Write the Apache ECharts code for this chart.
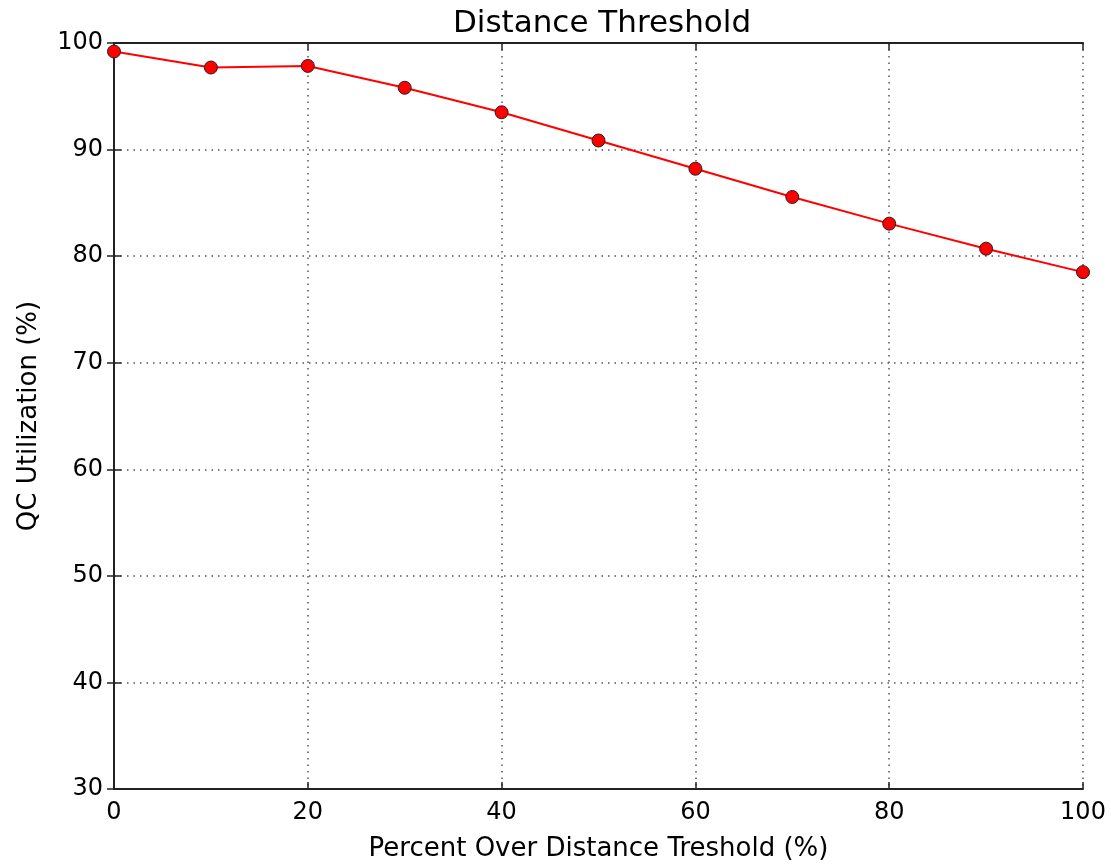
<!DOCTYPE html>
<html>
<head>
<meta charset="utf-8">
<script src="https://cdn.jsdelivr.net/npm/echarts@6/dist/echarts.min.js"></script>
<style>
  html, body { margin: 0; padding: 0; background: #fff; }
  #chart { width: 1111px; height: 867px; }
</style>
</head>
<body>
<div id="chart"></div>
<script>
// percent over distance threshold
const overThreshold = [0, 10, 20, 30, 40, 50, 60, 70, 80, 90, 100];
// QC utilization (%)
const qcUtilization = [99.2, 97.7, 97.85, 95.8, 93.5, 90.85, 88.2, 85.55, 83.05, 80.7, 78.5];

const FONT = 'DejaVu Sans';
const axisLineStyle = { color: '#222', width: 2 };
const gridStyle = { color: '#555', width: 1.5, type: [1.5, 5] };

const frameAxis = (pos) => ({
  position: pos,
  axisLine: { show: true, lineStyle: axisLineStyle },
  axisTick: { show: true, inside: true, length: 7, lineStyle: { color: '#222', width: 1.5 } },
  axisLabel: { show: false },
  splitLine: { show: false }
});

const option = {
  animation: false,
  backgroundColor: '#fff',
  textStyle: { fontFamily: FONT, color: '#000' },
  title: {
    text: 'Distance Threshold',
    left: 597,
    top: 3,
    textAlign: 'center',
    textStyle: { fontFamily: FONT, fontSize: 31, fontWeight: 'normal', color: '#000' }
  },
  grid: { left: 114, right: 28, top: 43, bottom: 77, containLabel: false },
  xAxis: [
    {
      type: 'value',
      min: 0,
      max: 100,
      interval: 20,
      name: 'Percent Over Distance Treshold (%)',
      nameLocation: 'middle',
      nameGap: 47,
      nameTextStyle: { fontFamily: FONT, fontSize: 26, color: '#000' },
      axisLine: { show: true, lineStyle: axisLineStyle },
      axisTick: { show: true, inside: true, length: 7, lineStyle: { color: '#222', width: 1.5 } },
      axisLabel: { fontFamily: FONT, fontSize: 24, color: '#000', margin: 12 },
      splitLine: { show: true, lineStyle: gridStyle }
    },
    Object.assign({ type: 'value', min: 0, max: 100, interval: 20 }, frameAxis('top'))
  ],
  yAxis: [
    {
      type: 'value',
      min: 30,
      max: 100,
      interval: 10,
      name: 'QC Utilization (%)',
      nameLocation: 'middle',
      nameGap: 72,
      nameTextStyle: { fontFamily: FONT, fontSize: 26, color: '#000' },
      axisLine: { show: true, lineStyle: axisLineStyle },
      axisTick: { show: true, inside: true, length: 7, lineStyle: { color: '#222', width: 1.5 } },
      axisLabel: { fontFamily: FONT, fontSize: 24, color: '#000', margin: 11 },
      splitLine: { show: true, lineStyle: gridStyle }
    },
    Object.assign({ type: 'value', min: 30, max: 100, interval: 10 }, frameAxis('right'))
  ],
  series: [
    {
      type: 'line',
      data: overThreshold.map((x, i) => [x, qcUtilization[i]]),
      symbol: 'circle',
      symbolSize: 13,
      clip: false,
      lineStyle: { color: '#ff0000', width: 2 },
      itemStyle: { color: '#ff0000', borderColor: '#222', borderWidth: 1 }
    }
  ]
};

const chart = echarts.init(document.getElementById('chart'));
chart.setOption(option);
</script>
</body>
</html>
